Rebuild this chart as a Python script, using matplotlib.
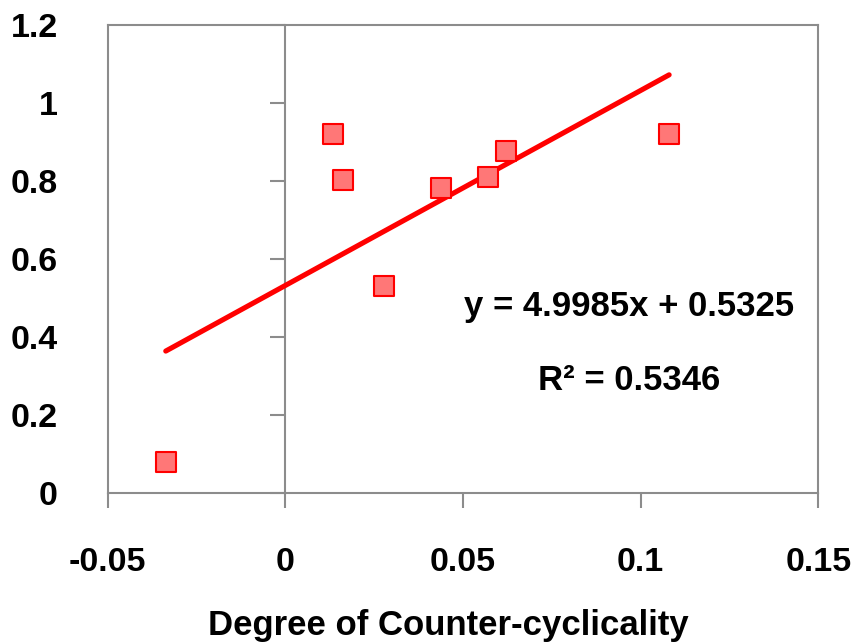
import matplotlib.pyplot as plt

plt.rcParams['font.family'] = ['Liberation Sans', 'DejaVu Sans']
plt.rcParams['font.weight'] = 'bold'

# Points
x_vals = [-0.0337, 0.0134, 0.0162, 0.0277, 0.0438, 0.057, 0.0621, 0.108]
y_vals = [0.079, 0.921, 0.803, 0.531, 0.782, 0.81, 0.877, 0.921]

# Linear trend line
slope = 4.9985
intercept = 0.5325
r_squared = 0.5346

x_ticks = [-0.05, 0, 0.05, 0.1, 0.15]
x_tick_labels = ["-0.05", "0", "0.05", "0.1", "0.15"]
y_ticks = [0, 0.2, 0.4, 0.6, 0.8, 1.0, 1.2]
y_tick_labels = ["0", "0.2", "0.4", "0.6", "0.8", "1", "1.2"]

grey = "#8c8c8c"

fig = plt.figure(figsize=(8.56, 6.42), dpi=100)
ax = fig.add_axes([0.126, 0.232, 0.83, 0.729])

# trend line over the data range
x_fit = [min(x_vals), max(x_vals)]
y_fit = [slope * v + intercept for v in x_fit]
ax.plot(x_fit, y_fit, color="#ff0000", linewidth=3.7, solid_capstyle="round", zorder=2)

ax.scatter(x_vals, y_vals, marker="s", s=200, facecolor="#ff7777",
           edgecolor="#ff0000", linewidth=1.5, zorder=3)

ax.set_xlim(-0.05, 0.15)
ax.set_ylim(0, 1.2)

for sp in ax.spines.values():
    sp.set_color(grey)
    sp.set_linewidth(1.5)

ax.set_xticks(x_ticks)
ax.set_xticklabels(x_tick_labels)
ax.tick_params(axis="x", direction="out", length=11, width=1.5, color=grey,
               pad=28, labelsize=24.5)
ax.set_yticks(y_ticks)
ax.set_yticklabels(y_tick_labels)
ax.tick_params(axis="y", length=0, pad=36, labelsize=24.5)

# vertical axis crossing at x = 0 with its own tick marks
sec = ax.secondary_yaxis(0.25)
sec.set_yticks(y_ticks)
sec.set_yticklabels([])
sec.spines["left"].set_color(grey)
sec.spines["left"].set_linewidth(1.5)
sec.tick_params(axis="y", direction="out", length=11, width=1.5, color=grey)

ax.set_xlabel("Degree of Counter-cyclicality", fontsize=25, fontweight="bold")
ax.xaxis.set_label_coords(0.479, -0.248)

ax.text(0.0968, 0.454, "y = 4.9985x + 0.5325", fontsize=25, fontweight="bold",
        ha="center", va="baseline")
ax.text(0.0968, 0.264, f"R² = {r_squared}", fontsize=25, fontweight="bold",
        ha="center", va="baseline")

fig.savefig("out.png", dpi=100)
